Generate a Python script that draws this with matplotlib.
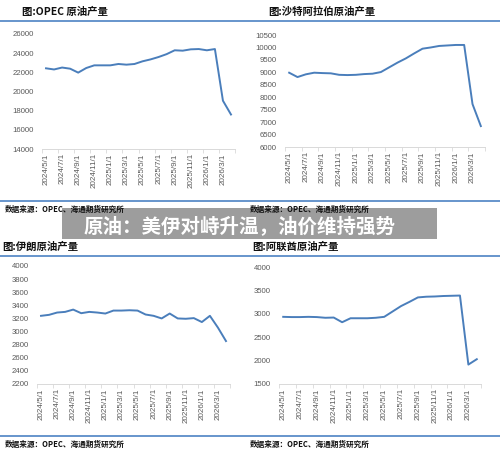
import matplotlib.pyplot as plt
from matplotlib.lines import Line2D
from matplotlib.patches import Rectangle

plt.rcParams['font.family'] = ['Noto Sans CJK SC', 'DejaVu Sans']

months = ['2024/5/1', '2024/6/1', '2024/7/1', '2024/8/1', '2024/9/1', '2024/10/1',
          '2024/11/1', '2024/12/1', '2025/1/1', '2025/2/1', '2025/3/1', '2025/4/1',
          '2025/5/1', '2025/6/1', '2025/7/1', '2025/8/1', '2025/9/1', '2025/10/1',
          '2025/11/1', '2025/12/1', '2026/1/1', '2026/2/1', '2026/3/1', '2026/4/1']

opec = [22420, 22300, 22500, 22380, 21970, 22450, 22730, 22730, 22730, 22870, 22800, 22870,
        23150, 23350, 23600, 23900, 24300, 24260, 24400, 24430, 24300, 24430, 19040, 17600]
saudi = [8985, 8810, 8920, 8985, 8970, 8960, 8900, 8890, 8900, 8930, 8945, 9010,
         9200, 9390, 9560, 9760, 9950, 10000, 10060, 10080, 10100, 10100, 7725, 6840]
iran = [3240, 3255, 3290, 3300, 3335, 3280, 3300, 3290, 3275, 3320, 3320, 3325,
        3320, 3260, 3240, 3200, 3275, 3200, 3195, 3205, 3145, 3240, 3060, 2855]
uae = [2935, 2930, 2930, 2935, 2930, 2915, 2920, 2820, 2905, 2905, 2905, 2915,
       2935, 3050, 3165, 3255, 3350, 3365, 3370, 3380, 3385, 3390, 1915, 2030]

W, H = 500, 453
fig = plt.figure(figsize=(W / 100, H / 100), dpi=100)


def box(x0, y0, x1, y1):
    # pixel box (top-left origin) -> figure fraction rect
    return [x0 / W, 1 - y1 / H, (x1 - x0) / W, (y1 - y0) / H]


def panel(rect, vals, ylo, yhi, step):
    ax = fig.add_axes(rect)
    n = len(vals)
    ax.plot(range(n), vals, color='#4a7ebb', lw=1.4, solid_joinstyle='round')
    ax.set_xlim(-0.5, n - 0.5)
    ax.set_ylim(ylo, yhi)
    yt = list(range(ylo, yhi + 1, step))
    ax.set_yticks(yt)
    ax.set_yticklabels([str(v) for v in yt], fontsize=5.6, color='#595959',
                       family='Liberation Sans')
    ax.set_xticks(range(0, n, 2))
    ax.set_xticklabels(months[::2], rotation=90, fontsize=5.8, color='#595959',
                       family='Liberation Sans')
    ax.set_xticks([i - 0.5 for i in range(0, n + 1, 2)], minor=True)
    ax.tick_params(axis='x', which='major', length=0, pad=3)
    ax.tick_params(axis='x', which='minor', length=3, color='#d9d9d9', width=0.6)
    ax.tick_params(axis='y', length=0, pad=6)
    for s in ['top', 'right', 'left']:
        ax.spines[s].set_visible(False)
    ax.spines['bottom'].set_color('#d9d9d9')
    ax.spines['bottom'].set_linewidth(0.7)
    ax.patch.set_alpha(0)
    return ax


panel(box(42, 34, 235, 149), opec, 14000, 26000, 2000)
panel(box(285, 35, 485, 147), saudi, 6000, 10500, 500)
panel(box(37, 266, 230, 384), iran, 2200, 4000, 200)
panel(box(279, 267, 481, 384), uae, 1500, 4000, 500)

# separator lines
for y in [21, 201, 256, 436]:
    fig.add_artist(Line2D([0, 1], [1 - y / H, 1 - y / H], transform=fig.transFigure,
                          color='#5b8cc8', lw=1.3))

titles = [(22, 12, '图:OPEC 原油产量'), (268, 12, '图:沙特阿拉伯原油产量'),
          (2, 247, '图:伊朗原油产量'), (252, 247, '图:阿联酋原油产量')]
for x, y, t in titles:
    fig.text(x / W, 1 - y / H, t, fontsize=7.5, fontweight='bold', va='center',
             color='#111111', zorder=12)

src = '数据来源：OPEC、海通期货研究所'
for x, y in [(5, 209), (250, 209), (5, 444), (250, 444)]:
    fig.text(x / W, 1 - y / H, src, fontsize=5.5, fontweight='bold', va='center',
             color='#111111', zorder=12)

# banner
fig.add_artist(Rectangle((62 / W, 1 - 239 / H), 375 / W, 31 / H, transform=fig.transFigure,
                         facecolor='#9d9d9d', edgecolor='none', zorder=10))
fig.text(240 / W, 1 - 226 / H, '原油：美伊对峙升温，油价维持强势', fontsize=14,
         fontweight='bold', color='white', ha='center', va='center', zorder=11)

fig.savefig('out.png', dpi=100)
